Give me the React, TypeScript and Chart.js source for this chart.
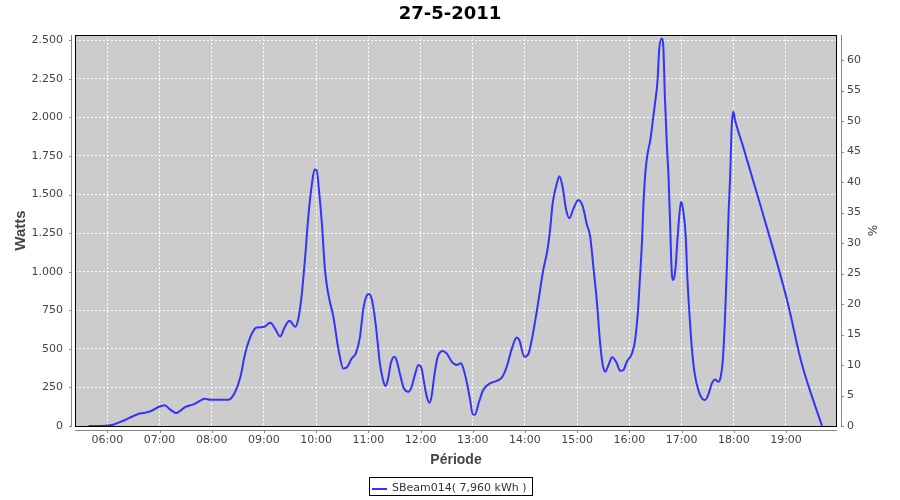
import React, { useEffect, useRef } from "react";
import { Chart, registerables } from "chart.js";

Chart.register(...registerables);

const titleText = "27-5-2011";
const yAxisTitle = "Watts";
const y2AxisTitle = "%";
const xAxisTitle = "Période";
const seriesLabel = "SBeam014( 7,960 kWh )";

const hourTicks = [6, 7, 8, 9, 10, 11, 12, 13, 14, 15, 16, 17, 18, 19];
const hourLabels = ["06:00", "07:00", "08:00", "09:00", "10:00", "11:00", "12:00", "13:00", "14:00", "15:00", "16:00", "17:00", "18:00", "19:00"];
const wattTicks = [0, 250, 500, 750, 1000, 1250, 1500, 1750, 2000, 2250, 2500];
const pctTicks = [0, 5, 10, 15, 20, 25, 30, 35, 40, 45, 50, 55, 60];

const xMin = 5.381;
const xMax = 19.977;
const wattMax = 2534;
const pctMax = 64.1;

// time of day in hours
const times = [
  5.64, 5.96, 6.11, 6.21, 6.34, 6.47, 6.59, 6.72, 6.85, 6.98,
  7.1, 7.2, 7.32, 7.39, 7.49, 7.65, 7.78, 7.87, 7.97, 8.16,
  8.32, 8.45, 8.55, 8.64, 8.77, 8.86, 8.99, 9.12, 9.21, 9.31,
  9.4, 9.49, 9.6, 9.66, 9.72, 9.79, 9.85, 9.92, 9.97, 10.01,
  10.06, 10.11, 10.17, 10.23, 10.33, 10.43, 10.52, 10.59, 10.68, 10.76,
  10.84, 10.9, 10.96, 11.01, 11.07, 11.13, 11.18, 11.22, 11.29, 11.33,
  11.38, 11.43, 11.5, 11.54, 11.61, 11.68, 11.77, 11.83, 11.89, 11.96,
  12.02, 12.07, 12.12, 12.17, 12.21, 12.26, 12.32, 12.42, 12.5, 12.6,
  12.69, 12.77, 12.82, 12.89, 12.95, 13.0, 13.04, 13.12, 13.2, 13.33,
  13.46, 13.56, 13.65, 13.75, 13.84, 13.89, 13.99, 14.07, 14.13, 14.23,
  14.35, 14.43, 14.48, 14.53, 14.61, 14.66, 14.72, 14.79, 14.85, 14.93,
  15.02, 15.11, 15.18, 15.25, 15.31, 15.38, 15.44, 15.49, 15.54, 15.6,
  15.67, 15.76, 15.82, 15.885, 15.95, 16.05, 16.11, 16.17, 16.2, 16.24,
  16.27, 16.31, 16.35, 16.4, 16.45, 16.49, 16.54, 16.57, 16.62, 16.65,
  16.68, 16.72, 16.75, 16.78, 16.81, 16.84, 16.88, 16.92, 16.96, 16.99,
  17.03, 17.08, 17.11, 17.15, 17.2, 17.25, 17.32, 17.39, 17.45, 17.51,
  17.58, 17.64, 17.7, 17.75, 17.79, 17.83, 17.87, 17.9, 17.93, 17.96,
  17.99, 18.025, 18.18, 18.5, 19.02, 19.3, 19.69,
];

const watts = [
  0, 2, 8, 21, 39, 60, 78, 86, 99, 123,
  134, 108, 84, 97, 123, 140, 164, 177, 170, 170,
  170, 222, 319, 470, 600, 639, 641, 669, 633, 580,
  643, 682, 643, 697, 838, 1097, 1356, 1572, 1662, 1658,
  1507, 1313, 1010, 859, 708, 492, 373, 380, 438, 471,
  578, 751, 838, 855, 816, 687, 536, 406, 287, 259,
  309, 406, 449, 427, 330, 244, 222, 255, 330, 395,
  373, 276, 190, 151, 190, 319, 438, 486, 471, 416,
  395, 406, 373, 276, 168, 75, 73, 157, 233, 276,
  293, 315, 384, 503, 574, 557, 449, 471, 557, 751,
  1010, 1140, 1269, 1442, 1572, 1619, 1550, 1399, 1347, 1410,
  1464, 1420, 1313, 1226, 1032, 795, 536, 395, 352, 395,
  445, 406, 358, 363, 416, 471, 557, 773, 946, 1183,
  1442, 1658, 1766, 1852, 1982, 2090, 2241, 2435, 2511, 2457,
  2133, 1809, 1615, 1313, 1010, 946, 1010, 1205, 1378, 1453,
  1399, 1226, 967, 730, 492, 341, 233, 179, 168, 201,
  276, 302, 287, 319, 427, 687, 1054, 1378, 1615, 1939,
  2036, 1982, 1809, 1442, 816, 406, 0,
];

const tickFont = { family: "'DejaVu Sans', sans-serif", size: 11 };
const tickColor = "#444444";
const axisGray = "#888888";

function formatThousands(v: number): string {
  const n = Math.round(v);
  if (n >= 1000) {
    const th = Math.floor(n / 1000);
    const rest = String(n % 1000).padStart(3, "0");
    return th + "." + rest;
  }
  return String(n);
}

const framePlugin = {
  id: "framePlugin",
  beforeDraw(chart: any) {
    const { ctx, chartArea } = chart;
    const { left, top, right, bottom } = chartArea;
    ctx.save();
    ctx.fillStyle = "#ffffff";
    ctx.fillRect(0, 0, chart.width, chart.height);
    ctx.fillStyle = "#cccccc";
    ctx.fillRect(left, top, right - left, bottom - top);
    ctx.restore();
  },
  afterDraw(chart: any) {
    const { ctx, chartArea, scales } = chart;
    const { left, top, right, bottom } = chartArea;
    ctx.save();
    // plot frame
    ctx.strokeStyle = "#000000";
    ctx.lineWidth = 1;
    ctx.strokeRect(left + 0.5, top + 0.5, right - left - 1, bottom - top);

    // axis lines offset from the plot
    ctx.strokeStyle = axisGray;
    ctx.beginPath();
    ctx.moveTo(left - 3.5, top);
    ctx.lineTo(left - 3.5, bottom + 1);
    ctx.moveTo(right + 4.5, top);
    ctx.lineTo(right + 4.5, bottom + 1);
    ctx.moveTo(left, bottom + 4.5);
    ctx.lineTo(right, bottom + 4.5);
    ctx.stroke();

    ctx.beginPath();
    scales.y.ticks.forEach((t: any) => {
      const py = Math.round(scales.y.getPixelForValue(t.value)) + 0.5;
      ctx.moveTo(left - 6, py);
      ctx.lineTo(left - 3.5, py);
    });
    scales.y2.ticks.forEach((t: any) => {
      const py = Math.round(scales.y2.getPixelForValue(t.value)) + 0.5;
      ctx.moveTo(right + 4.5, py);
      ctx.lineTo(right + 7, py);
    });
    scales.x.ticks.forEach((t: any) => {
      const px = Math.round(scales.x.getPixelForValue(t.value)) + 0.5;
      ctx.moveTo(px, bottom + 4.5);
      ctx.lineTo(px, bottom + 7);
    });
    ctx.stroke();

    // title
    ctx.fillStyle = "#000000";
    ctx.font = "bold 18px 'DejaVu Sans', sans-serif";
    ctx.textAlign = "center";
    ctx.textBaseline = "alphabetic";
    ctx.fillText(titleText, chart.width / 2, 19);

    // legend
    ctx.font = "11px 'DejaVu Sans', sans-serif";
    ctx.textAlign = "left";
    const tw = ctx.measureText(seriesLabel).width;
    const boxW = Math.round(3 + 16 + 4 + tw + 5);
    const boxL = Math.round(chart.width / 2 - boxW / 2);
    ctx.strokeStyle = "#000000";
    ctx.strokeRect(boxL + 0.5, 477.5, boxW, 18);
    ctx.fillStyle = "#3333ff";
    ctx.fillRect(boxL + 3, 488, 15, 2);
    ctx.fillStyle = "#333333";
    ctx.fillText(seriesLabel, boxL + 23, 491);
    ctx.restore();
  },
};

export default function App() {
  const canvasRef = useRef<HTMLCanvasElement | null>(null);

  useEffect(() => {
    document.body.style.margin = "0";
    const canvas = canvasRef.current;
    if (!canvas) return;
    const points = times.map((t, i) => ({ x: t, y: watts[i] }));
    const chart = new Chart(canvas, {
      type: "line",
      data: {
        datasets: [
          {
            label: seriesLabel,
            data: points,
            borderColor: "#3333ff",
            backgroundColor: "#3333ff",
            borderWidth: 2,
            pointRadius: 0,
            fill: false,
            cubicInterpolationMode: "monotone",
            xAxisID: "x",
            yAxisID: "y",
          },
        ],
      },
      options: {
        responsive: false,
        animation: false,
        devicePixelRatio: 1,
        layout: { padding: { top: 35, left: 0, right: 0, bottom: 0 } },
        plugins: {
          legend: { display: false },
          title: { display: false },
          tooltip: { enabled: false },
        },
        scales: {
          x: {
            type: "linear",
            position: "bottom",
            min: xMin,
            max: xMax,
            afterBuildTicks: (s: any) => {
              s.ticks = hourTicks.map((v) => ({ value: v }));
            },
            afterFit: (s: any) => {
              s.height = 74;
            },
            ticks: {
              autoSkip: false,
              maxRotation: 0,
              padding: 8,
              font: tickFont,
              color: tickColor,
              callback: (v: any) => {
                const i = hourTicks.indexOf(Number(v));
                return i >= 0 ? hourLabels[i] : "";
              },
            },
            grid: { color: "#ffffff", lineWidth: 1, drawTicks: false },
            border: { display: false, dash: [2, 2] },
            title: {
              display: true,
              text: xAxisTitle,
              color: "#444444",
              font: { family: "'Liberation Sans', Arial, sans-serif", size: 14, weight: "bold", lineHeight: 1.2 },
              padding: { top: 0, bottom: 31.6 },
            },
          },
          y: {
            type: "linear",
            position: "left",
            min: 0,
            max: wattMax,
            afterBuildTicks: (s: any) => {
              s.ticks = wattTicks.map((v) => ({ value: v }));
            },
            afterFit: (s: any) => {
              s.width = 75;
            },
            ticks: {
              autoSkip: false,
              padding: 12,
              font: tickFont,
              color: tickColor,
              callback: (v: any) => formatThousands(Number(v)),
            },
            grid: { color: "#ffffff", lineWidth: 1, drawTicks: false },
            border: { display: false, dash: [2, 2] },
            title: {
              display: true,
              text: yAxisTitle,
              color: "#444444",
              font: { family: "'Liberation Sans', Arial, sans-serif", size: 15, weight: "bold", lineHeight: 1.2 },
              padding: { top: 12, bottom: 0 },
            },
          },
          y2: {
            type: "linear",
            position: "right",
            min: 0,
            max: pctMax,
            afterBuildTicks: (s: any) => {
              s.ticks = pctTicks.map((v) => ({ value: v }));
            },
            afterFit: (s: any) => {
              s.width = 63;
            },
            ticks: {
              autoSkip: false,
              padding: 10,
              font: tickFont,
              color: tickColor,
            },
            grid: { display: false, drawOnChartArea: false, drawTicks: false },
            border: { display: false },
            title: {
              display: true,
              text: y2AxisTitle,
              color: "#444444",
              font: { family: "'DejaVu Sans', sans-serif", size: 12, lineHeight: 1.2 },
              padding: { top: 21.5, bottom: 0 },
            },
          },
        },
      },
      plugins: [framePlugin],
    } as any);
    return () => chart.destroy();
  }, []);

  return (
    <div style={{ width: 900, height: 500 }}>
      <canvas ref={canvasRef} width={900} height={500} style={{ display: "block" }} />
    </div>
  );
}
